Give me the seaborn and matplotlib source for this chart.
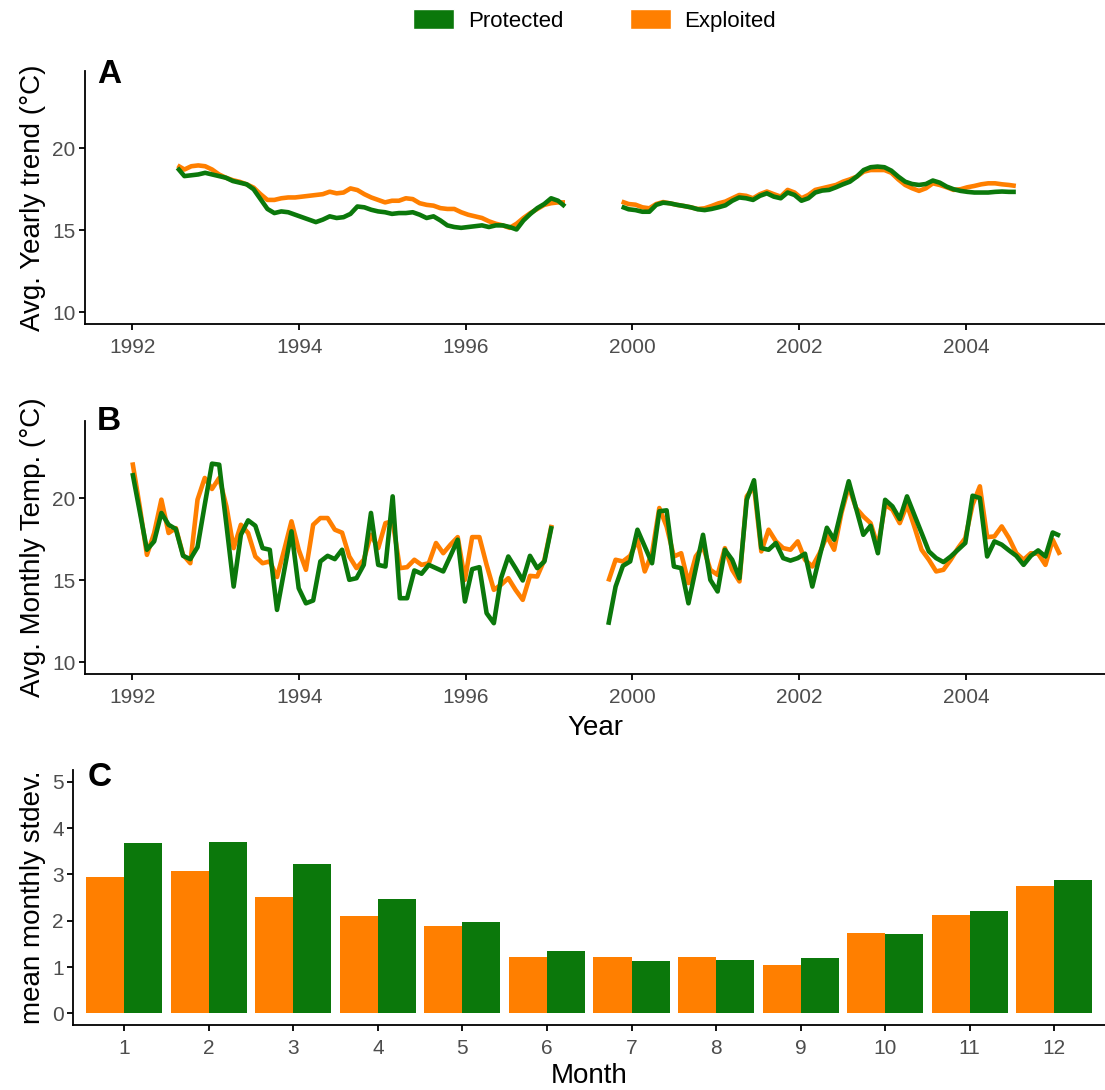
import numpy as np
import pandas as pd
import matplotlib
matplotlib.use("Agg")
import matplotlib.pyplot as plt
from matplotlib.patches import Patch
import seaborn as sns

# ---------------------------------------------------------------- data
SITES = ["Exploited", "Protected"]          # drawing order (protected on top)
COLORS = {"Protected": "#0B780B", "Exploited": "#FF7F00"}

# No data in 1997-1998: those two years are collapsed out of the time axis
GAP_START = 1998.0
GAP_YEARS = 2.0
YEAR_TICKS = [1992, 1994, 1996, 2000, 2002, 2004]

# (A) yearly running-mean trend, two sampling periods (start, end in years)
trend_periods = [(1992.54, 1997.19), (1999.87, 2004.60)]
trend_protected = [
    [18.8, 18.3, 18.35, 18.4, 18.5, 18.4, 18.3, 18.2, 18.0, 17.9,
     17.8, 17.5, 16.9, 16.3, 16.05, 16.15, 16.1, 15.95, 15.8, 15.65,
     15.5, 15.65, 15.85, 15.75, 15.8, 16.0, 16.45, 16.4, 16.25, 16.15,
     16.1, 16.0, 16.05, 16.05, 16.1, 15.95, 15.75, 15.85, 15.6, 15.3,
     15.2, 15.15, 15.2, 15.25, 15.3, 15.2, 15.3, 15.3, 15.2, 15.05,
     15.6, 16.0, 16.35, 16.6, 16.95, 16.8, 16.45],
    [16.44, 16.28, 16.23, 16.13, 16.13, 16.55, 16.68, 16.64, 16.55, 16.48,
     16.4, 16.28, 16.23, 16.3, 16.4, 16.52, 16.8, 17.0, 16.95, 16.85,
     17.1, 17.25, 17.05, 16.95, 17.3, 17.15, 16.8, 16.95, 17.3, 17.42,
     17.46, 17.62, 17.8, 17.96, 18.27, 18.67, 18.84, 18.88, 18.84, 18.63,
     18.27, 17.96, 17.82, 17.76, 17.82, 18.03, 17.9, 17.66, 17.5, 17.4,
     17.34, 17.3, 17.3, 17.3, 17.34, 17.36, 17.34, 17.34],
]
trend_exploited = [
    [18.95, 18.7, 18.9, 18.95, 18.9, 18.7, 18.4, 18.2, 18.05, 17.95,
     17.8, 17.6, 17.2, 16.85, 16.85, 16.95, 17.0, 17.0, 17.05, 17.1,
     17.15, 17.2, 17.35, 17.25, 17.3, 17.55, 17.45, 17.2, 17.0, 16.85,
     16.7, 16.8, 16.8, 16.95, 16.9, 16.65, 16.55, 16.5, 16.35, 16.3,
     16.3, 16.1, 15.95, 15.85, 15.75, 15.55, 15.4, 15.3, 15.15, 15.4,
     15.75, 16.05, 16.3, 16.55, 16.65, 16.7, 16.7],
    [16.75, 16.6, 16.56, 16.4, 16.34, 16.6, 16.72, 16.64, 16.55, 16.48,
     16.4, 16.3, 16.34, 16.48, 16.64, 16.75, 16.95, 17.15, 17.1, 16.95,
     17.2, 17.36, 17.2, 17.05, 17.46, 17.3, 16.95, 17.15, 17.46, 17.56,
     17.66, 17.76, 17.96, 18.1, 18.27, 18.57, 18.67, 18.67, 18.67, 18.5,
     18.1, 17.76, 17.56, 17.4, 17.56, 17.86, 17.76, 17.62, 17.46, 17.5,
     17.62, 17.7, 17.8, 17.86, 17.86, 17.8, 17.76, 17.7],
]

# (B) monthly mean temperature, two sampling periods
monthly_periods = [(1992.0, 1997.03), (1999.71, 2005.13)]
monthly_protected = [
    [21.53, 19.2, 16.86, 17.37, 19.1, 18.38, 18.12, 16.49, 16.29, 17.02,
     19.6, 22.1, 22.04, 18.38, 14.62, 17.77, 18.65, 18.32, 16.96, 16.86,
     13.2, 15.6, 17.98, 14.52, 13.6, 13.77, 16.15, 16.49, 16.29, 16.86,
     15.03, 15.13, 15.94, 19.1, 15.94, 15.84, 20.11, 13.91, 13.91, 15.6,
     15.4, 15.94, 15.74, 15.54, 16.49, 17.47, 13.71, 15.68, 15.8, 13.0,
     12.39, 15.13, 16.45, 15.74, 14.99, 16.49, 15.74, 16.15, 18.3],
    [12.29, 14.62, 15.88, 16.15, 18.08, 17.06, 16.04, 19.2, 19.26, 15.84,
     15.74, 13.6, 15.7, 17.77, 15.03, 14.32, 16.86, 16.25, 15.13, 19.9,
     21.09, 16.96, 16.86, 17.27, 16.35, 16.2, 16.35, 16.62, 14.62, 16.45,
     18.2, 17.47, 19.3, 21.03, 19.4, 17.77, 18.32, 16.65, 19.9, 19.5,
     18.73, 20.11, 18.99, 17.88, 16.76, 16.35, 16.11, 16.45, 16.86, 17.27,
     20.15, 20.01, 16.45, 17.37, 17.17, 16.82, 16.49, 15.94, 16.49, 16.82,
     16.45, 17.91, 17.71],
]
monthly_exploited = [
    [22.18, 19.5, 16.55, 17.88, 19.91, 17.88, 18.18, 16.55, 16.04, 19.91,
     21.23, 20.56, 21.23, 19.5, 16.96, 18.38, 17.88, 16.45, 16.04, 16.15,
     15.2, 16.86, 18.59, 16.86, 15.64, 18.38, 18.79, 18.79, 18.08, 17.9,
     16.45, 15.74, 16.25, 17.77, 16.96, 18.48, 18.6, 15.74, 15.8, 16.25,
     15.94, 16.04, 17.27, 16.65, 17.17, 17.63, 15.03, 17.63, 17.63, 15.94,
     14.42, 14.73, 15.13, 14.42, 13.81, 15.27, 15.23, 16.25, 18.38],
    [14.93, 16.25, 16.15, 16.49, 17.47, 15.54, 16.65, 19.4, 18.28, 16.45,
     16.65, 14.83, 16.45, 17.06, 15.64, 15.33, 16.96, 15.64, 14.93, 20.11,
     20.72, 16.76, 18.08, 17.37, 16.96, 16.86, 17.37, 16.25, 15.84, 16.65,
     17.7, 16.86, 19.1, 20.72, 19.4, 18.89, 18.48, 17.06, 19.6, 19.3,
     18.48, 19.6, 18.28, 16.86, 16.25, 15.54, 15.64, 16.25, 16.96, 17.57,
     19.6, 20.72, 17.63, 17.67, 18.28, 17.57, 16.65, 16.25, 16.65, 16.62,
     15.94, 17.47, 16.55],
]

# (C) mean monthly standard deviation
months = list(range(1, 13))
sd_exploited = [2.94, 3.08, 2.52, 2.10, 1.88, 1.22, 1.22, 1.21, 1.05, 1.73, 2.12, 2.76]
sd_protected = [3.67, 3.69, 3.23, 2.47, 1.98, 1.34, 1.14, 1.16, 1.20, 1.71, 2.21, 2.88]


# ---------------------------------------------------------------- helpers
def axis_pos(year):
    """Position on the broken time axis (1997-1998 removed)."""
    year = np.asarray(year, dtype=float)
    return np.where(year >= GAP_START, year - GAP_YEARS, year)


def series_frame(periods, protected, exploited):
    parts = []
    for k, (t0, t1) in enumerate(periods):
        for site, vals in (("Exploited", exploited[k]), ("Protected", protected[k])):
            t = np.linspace(t0, t1, len(vals))
            parts.append(pd.DataFrame({"t": axis_pos(t), "value": vals,
                                       "site": site, "period": k}))
    return pd.concat(parts, ignore_index=True)


df_trend = series_frame(trend_periods, trend_protected, trend_exploited)
df_month = series_frame(monthly_periods, monthly_protected, monthly_exploited)
df_sd = pd.DataFrame({
    "month": months * 2,
    "sd": sd_exploited + sd_protected,
    "site": ["Exploited"] * 12 + ["Protected"] * 12,
})

# ---------------------------------------------------------------- style
sns.set_theme(style="ticks")
plt.rcParams["font.family"] = ["Liberation Sans", "DejaVu Sans"]
plt.rcParams["text.color"] = "black"

TICK_COLOR = "#4D4D4D"
TITLE_SIZE = 20
TICK_SIZE = 15

fig = plt.figure(figsize=(11.05, 10.9), dpi=100)
axA = fig.add_axes([0.0769, 0.7028, 0.9231, 0.2321])
axB = fig.add_axes([0.0769, 0.3817, 0.9231, 0.2321])
axC = fig.add_axes([0.0665, 0.0596, 0.9335, 0.2339])


def style_axis(ax):
    sns.despine(ax=ax)
    for side in ("left", "bottom"):
        ax.spines[side].set_color("black")
        ax.spines[side].set_linewidth(1.3)
    ax.tick_params(axis="both", colors="black", labelcolor=TICK_COLOR,
                   labelsize=TICK_SIZE, length=4, width=1.3, pad=3)
    ax.tick_params(axis="x", pad=6)
    ax.grid(False)


for ax, df in ((axA, df_trend), (axB, df_month)):
    sns.lineplot(data=df, x="t", y="value", hue="site", hue_order=SITES,
                 palette=COLORS, units="period", estimator=None, sort=False,
                 linewidth=3.3, legend=False, ax=ax)
    for line in ax.lines:
        line.set_solid_capstyle("butt")
        line.set_solid_joinstyle("round")
    ax.set_xlim(1991.43, 2003.67)
    ax.set_ylim(9.3, 24.7)
    ax.set_yticks([10, 15, 20])
    ax.set_xticks(axis_pos(YEAR_TICKS))
    ax.set_xticklabels([str(y) for y in YEAR_TICKS])
    style_axis(ax)

axA.set_xlabel("")
axA.set_ylabel("Avg. Yearly trend (°C)", fontsize=TITLE_SIZE, color="black")
axB.set_xlabel("Year", fontsize=TITLE_SIZE, color="black", labelpad=6)
axB.set_ylabel("Avg. Monthly Temp. (°C)", fontsize=TITLE_SIZE, color="black")

sns.barplot(data=df_sd, x="month", y="sd", hue="site", hue_order=SITES,
            palette=COLORS, width=0.9, saturation=1, gap=0, errorbar=None,
            linewidth=0, legend=False, ax=axC)
axC.set_xlim(-0.6, 11.6)
axC.set_ylim(-0.25, 5.25)
axC.set_yticks([0, 1, 2, 3, 4, 5])
style_axis(axC)
axC.set_xlabel("Month", fontsize=TITLE_SIZE, color="black", labelpad=4)
axC.set_ylabel("mean monthly stdev.", fontsize=TITLE_SIZE, color="black")

# panel tags
for x, y, tag in ((0.0878, 0.9239, "A"), (0.0878, 0.6055, "B"), (0.0796, 0.2789, "C")):
    fig.text(x, y, tag, fontsize=24, fontweight="bold", va="baseline",
             ha="left", color="black")

# shared legend
handles = [Patch(facecolor=COLORS["Protected"], label="Protected"),
           Patch(facecolor=COLORS["Exploited"], label="Exploited")]
leg = fig.legend(handles=handles, loc="center", bbox_to_anchor=(0.538, 0.981),
                 ncol=2, frameon=False, fontsize=16, handlelength=1.85,
                 handleheight=1.0, handletextpad=0.6, columnspacing=3.0)
for text in leg.get_texts():
    text.set_color("black")

fig.savefig("out.png", dpi=100)
